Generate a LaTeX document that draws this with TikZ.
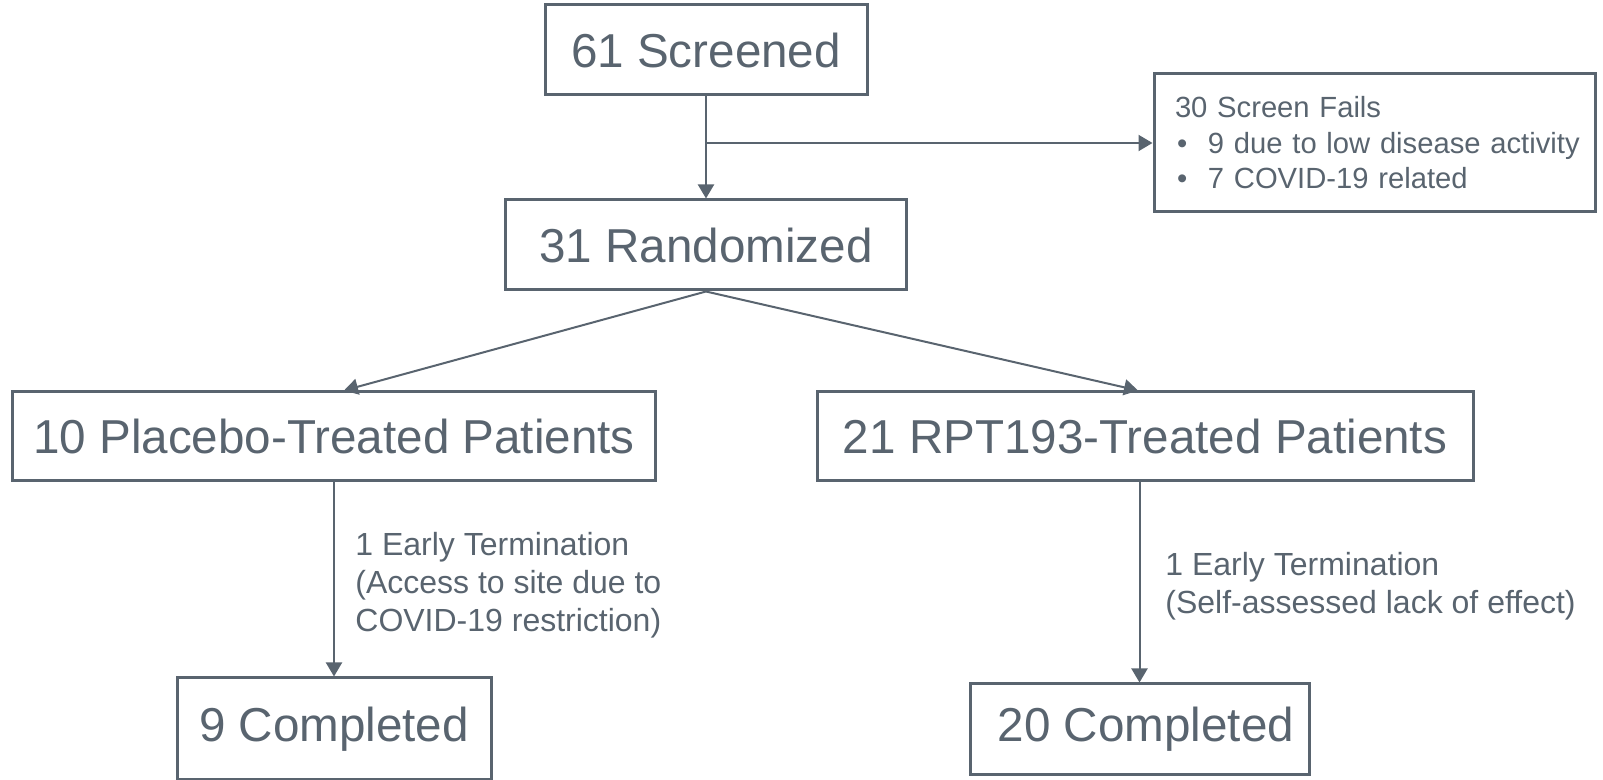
\documentclass[tikz,border=0pt]{standalone}
\usepackage{fontspec}
\setmainfont{Liberation Sans}
\usetikzlibrary{arrows.meta}
\definecolor{ink}{RGB}{89,100,111}
\begin{document}
\begin{tikzpicture}[x=0.5pt,y=-0.5pt,
  box/.style={draw=ink, line width=1.5pt, inner sep=0pt, text=ink, font=\fontsize{23.8pt}{28pt}\selectfont},
  lbl/.style={text=ink, inner sep=0pt, align=left, anchor=west, font=\fontsize{16pt}{19pt}\selectfont},
  arr/.style={draw=ink, line width=1pt, -{Triangle[length=7pt,width=8pt]}}]
\useasboundingbox (0,0) rectangle (1603,780);
\node[box, minimum width=161pt, minimum height=45pt] (scr) at (706,50) {61 Screened};
\node[box, minimum width=200.5pt, minimum height=45pt] (rnd) at (706,245) {31 Randomized};
\node[box, minimum height=69pt, text width=199.5pt, inner xsep=10.5pt, align=left,
      font=\fontsize{14.6pt}{17.75pt}\selectfont] (sf) at (1374.5,143)
  {\mbox{30 Screen Fails}\\
   \mbox{\makebox[16.5pt][l]{\hspace{1pt}•}9 due to low disease activity}\\
   \mbox{\makebox[16.5pt][l]{\hspace{1pt}•}7 COVID-19 related}};
\node[box, minimum width=321.5pt, minimum height=44.5pt] (plc) at (334,436.5) {10 Placebo-Treated Patients};
\node[box, minimum width=328pt, minimum height=44.5pt] (rpt) at (1145,436.5) {21 RPT193-Treated Patients};
\node[box, minimum width=157pt, minimum height=51pt] (c9) at (334,729) {9 Completed};
\node[box, minimum width=169.5pt, minimum height=45.5pt] (c20) at (1139.5,729.5) {\hspace*{6.5pt}20 Completed};
\draw[arr] (scr.south) -- (rnd.north);
\coordinate (br) at (scr.south |- sf.west);
\draw[arr] (br) -- (sf.west);
\draw[arr] (rnd.south) -- ([xshift=5pt]plc.north);
\draw[arr] (rnd.south) -- ([xshift=-3.5pt]rpt.north);
\draw[arr] (plc.south) -- (c9.north);
\draw[arr] (rpt.south -| c20.north) -- (c20.north);
\node[lbl] (et1) at (355,585) {1 Early Termination\\(Access to site due to\\COVID-19 restriction)};
\node[lbl] (et2) at (1165,586) {1 Early Termination\\(Self-assessed lack of effect)};
\end{tikzpicture}
\end{document}
